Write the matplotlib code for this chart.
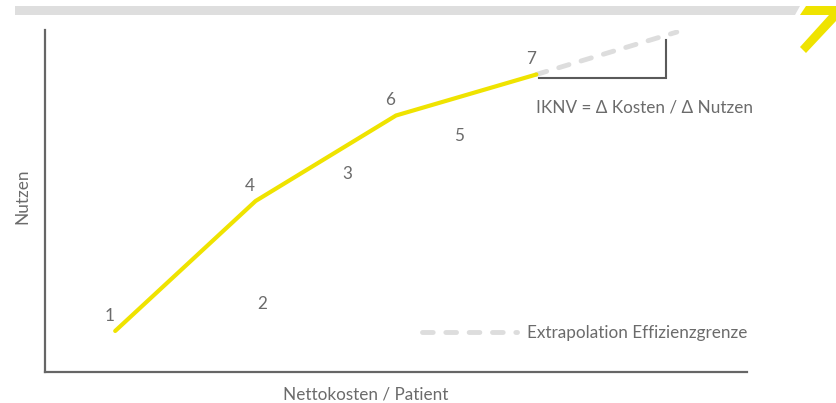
import numpy as np
import matplotlib
matplotlib.use('Agg')
import matplotlib.pyplot as plt
from matplotlib.patches import Polygon

plt.rcParams['font.family'] = ['Lato', 'DejaVu Sans']

# Interventionen: Nettokosten je Patient gegen Nutzen (willkuerliche Einheiten)
labels = ['1', '2', '3', '4', '5', '6', '7']
kosten = [10, 31, 43, 30, 59, 50, 70]
nutzen = [12, 20, 58, 50, 69, 75, 87]

# Effizienzgrenze und ihre Extrapolation
frontier = ['1', '4', '6', '7']
extrap_kosten = [70, 90]
extrap_nutzen = [87, 99.4]
bracket_kosten = 88.5

text_grey = '#6b6b6b'
axis_grey = '#666666'
yellow = '#efe300'
dash_grey = '#dddddd'
fs = 12.3

W, H = 836, 403
fig = plt.figure(figsize=(W / 100, H / 100), dpi=100)


def px(x, y):
    return (x / W, 1 - y / H)


# Kopfband und gelbes Logo-Element
band = Polygon([px(15, 6), px(800, 6), px(795, 15), px(15, 15)],
               closed=True, transform=fig.transFigure, color='#dedede', lw=0)
fig.add_artist(band)
logo = Polygon([px(806, 6), px(836, 6), px(836, 21), px(806, 53), px(800, 47),
                px(829, 15), px(800, 15)],
               closed=True, transform=fig.transFigure, color=yellow, lw=0)
fig.add_artist(logo)

ax = fig.add_axes([45 / W, 1 - 372 / H, 702 / W, 342 / H])
ax.set_xlim(0, 100)
ax.set_ylim(0, 100)
for s in ['top', 'right']:
    ax.spines[s].set_visible(False)
for s in ['left', 'bottom']:
    ax.spines[s].set_color(axis_grey)
    ax.spines[s].set_linewidth(1.6)
ax.set_xticks([])
ax.set_yticks([])

pos = {l: (k, n) for l, k, n in zip(labels, kosten, nutzen)}
fx = [pos[l][0] for l in frontier]
fy = [pos[l][1] for l in frontier]

ext, = ax.plot(extrap_kosten, extrap_nutzen, color=dash_grey, lw=3.5,
               dashes=(2.2, 2.6), solid_capstyle='round', dash_capstyle='round',
               label='Extrapolation Effizienzgrenze', zorder=2)
ax.plot(fx, fy, color=yellow, lw=3, solid_capstyle='round',
        solid_joinstyle='miter', zorder=3)

# Dreieck fuer den IKNV
x7, y7 = pos['7']
slope = (extrap_nutzen[1] - extrap_nutzen[0]) / (extrap_kosten[1] - extrap_kosten[0])
top = y7 + slope * (bracket_kosten - x7) - 1.5
ax.plot([x7 + 0.3, bracket_kosten, bracket_kosten], [y7 - 0.9, y7 - 0.9, top],
        color='#5a5a5a', lw=1.5, solid_joinstyle='miter', zorder=1)

ax.text(x7, y7 - 9.8, 'IKNV = \u0394 Kosten / \u0394 Nutzen', ha='left',
        va='center', fontsize=fs, color=text_grey)

for l, k, n in zip(labels, kosten, nutzen):
    if l in frontier:
        ax.annotate(l, (k, n), xytext=(-4, 11), textcoords='offset points',
                    ha='center', va='center', fontsize=fs, color=text_grey)
    else:
        ax.text(k, n, l, ha='center', va='center', fontsize=fs, color=text_grey)

leg = ax.legend(handles=[ext], loc='center right', bbox_to_anchor=(1.0, 0.114),
                frameon=False, borderaxespad=0, borderpad=0, handlelength=5.6,
                handletextpad=0.55, fontsize=fs)
for t in leg.get_texts():
    t.set_color(text_grey)

fig.text(22 / W, 1 - 196 / H, 'Nutzen', rotation=90, ha='center', va='center',
         fontsize=fs, color=text_grey)
fig.text(366 / W, 1 - 394 / H, 'Nettokosten / Patient', ha='center',
         va='center', fontsize=fs, color=text_grey)

fig.savefig('out.png', dpi=100)
